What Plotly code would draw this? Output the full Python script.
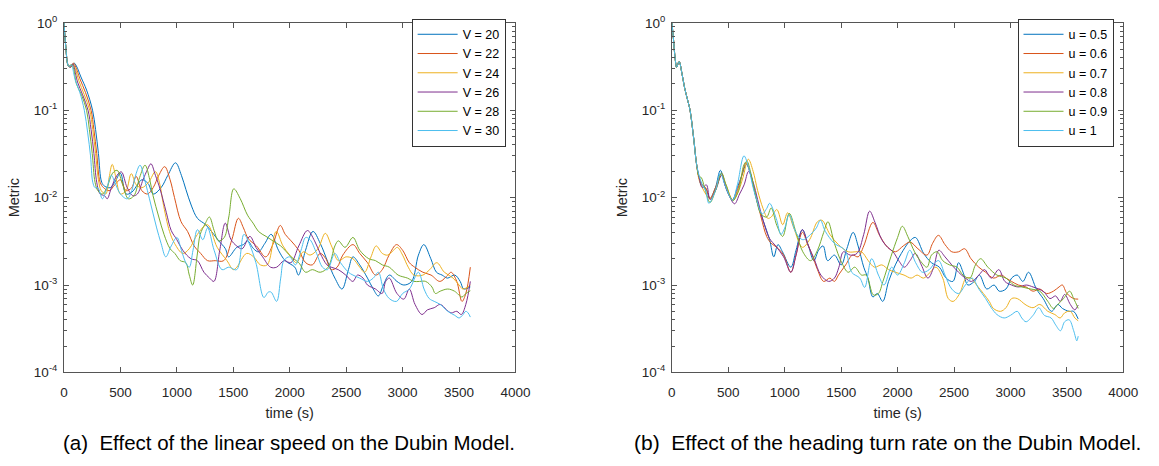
import plotly.graph_objects as go

# ---------------- data: (a) linear speed ----------------
labels_a = ["V = 20", "V = 22", "V = 24", "V = 26", "V = 28", "V = 30"]
labels_b = ["u = 0.5", "u = 0.6", "u = 0.7", "u = 0.8", "u = 0.9", "u = 1"]
colors = ["#0072BD", "#D95319", "#EDB120", "#7E2F8E", "#77AC30", "#4DBEEE"]

t_v20 = [0, 15, 40, 60, 90, 110, 150, 200, 253, 280, 305, 334, 360, 410, 450, 500, 550, 600, 650, 690, 745, 790, 860, 920, 988, 1040, 1080, 1130, 1182, 1255, 1327, 1371, 1430, 1458, 1531, 1589, 1626, 1680, 1723, 1780, 1835, 1900, 1960, 2045, 2077, 2140, 2206, 2270, 2340, 2400, 2463, 2520, 2560, 2620, 2689, 2740, 2785, 2830, 2882, 2950, 3011, 3080, 3140, 3188, 3250, 3300, 3350, 3397, 3462, 3510, 3542, 3600]
m_v20 = [1.0, 0.55, 0.32, 0.31, 0.345, 0.32, 0.24, 0.17, 0.1, 0.06, 0.032, 0.015, 0.0135, 0.013, 0.015, 0.019, 0.011, 0.0115, 0.014, 0.016, 0.0145, 0.011, 0.013, 0.018, 0.025, 0.018, 0.0124, 0.008, 0.0058, 0.0049, 0.0038, 0.0032, 0.0026, 0.0021, 0.0027, 0.0029, 0.0032, 0.0026, 0.0024, 0.0030, 0.0038, 0.0025, 0.0019, 0.0016, 0.0013, 0.0025, 0.0041, 0.0030, 0.0018, 0.0012, 0.0009, 0.0015, 0.0021, 0.0017, 0.0012, 0.0009, 0.00075, 0.001, 0.0013, 0.0011, 0.001, 0.0011, 0.0022, 0.0029, 0.002, 0.0014, 0.0013, 0.0012, 0.0013, 0.0011, 0.0009, 0.00095]

t_v22 = [0, 15, 40, 60, 85, 105, 140, 190, 240, 265, 290, 320, 350, 400, 450, 500, 550, 600, 639, 690, 740, 790, 840, 892, 940, 979, 1037, 1095, 1153, 1211, 1272, 1340, 1415, 1487, 1545, 1590, 1632, 1705, 1787, 1850, 1916, 1960, 2012, 2080, 2141, 2200, 2270, 2320, 2367, 2420, 2470, 2560, 2620, 2689, 2760, 2820, 2880, 2946, 3000, 3060, 3107, 3180, 3252, 3330, 3400, 3430, 3480, 3526, 3560, 3600]
m_v22 = [1.0, 0.55, 0.32, 0.31, 0.345, 0.31, 0.23, 0.16, 0.1, 0.06, 0.032, 0.015, 0.013, 0.012, 0.014, 0.016, 0.012, 0.013, 0.0175, 0.012, 0.011, 0.013, 0.018, 0.0226, 0.016, 0.01, 0.0053, 0.0041, 0.0028, 0.0023, 0.0019, 0.0019, 0.0019, 0.0033, 0.0058, 0.0045, 0.0034, 0.0028, 0.0021, 0.0029, 0.0048, 0.0038, 0.0032, 0.0025, 0.0018, 0.0017, 0.0023, 0.002, 0.0015, 0.0016, 0.0022, 0.0029, 0.0023, 0.0018, 0.0013, 0.0015, 0.0022, 0.0029, 0.0025, 0.0018, 0.0016, 0.0014, 0.0013, 0.0011, 0.0013, 0.0014, 0.0011, 0.00065, 0.0008, 0.0016]

t_v24 = [0, 15, 40, 60, 80, 100, 130, 180, 228, 255, 280, 305, 330, 370, 400, 427, 460, 500, 550, 596, 640, 690, 750, 810, 850, 877, 935, 979, 1052, 1110, 1182, 1270, 1357, 1444, 1500, 1531, 1618, 1680, 1740, 1800, 1880, 1940, 2000, 2060, 2120, 2180, 2250, 2315, 2370, 2431, 2500, 2560, 2620, 2664, 2720, 2766, 2820, 2867, 2920, 2954, 3000, 3050, 3100, 3180, 3240, 3303, 3370, 3448, 3500, 3535, 3600]
m_v24 = [1.0, 0.55, 0.32, 0.32, 0.34, 0.3, 0.22, 0.15, 0.1, 0.06, 0.032, 0.016, 0.012, 0.011, 0.017, 0.024, 0.017, 0.011, 0.012, 0.0188, 0.014, 0.013, 0.015, 0.0198, 0.014, 0.0088, 0.0041, 0.003, 0.0023, 0.0026, 0.0038, 0.0049, 0.0027, 0.0019, 0.0015, 0.0016, 0.0023, 0.0021, 0.0017, 0.0017, 0.0041, 0.0028, 0.0022, 0.0018, 0.0024, 0.0022, 0.0026, 0.0039, 0.0028, 0.0019, 0.0021, 0.002, 0.0016, 0.0014, 0.0021, 0.0028, 0.0023, 0.0022, 0.0025, 0.0027, 0.0022, 0.0016, 0.0013, 0.0013, 0.0015, 0.0018, 0.0014, 0.0012, 0.001, 0.0009, 0.001]

t_v26 = [0, 15, 40, 60, 78, 95, 120, 165, 213, 240, 265, 290, 320, 360, 383, 420, 470, 508, 560, 612, 650, 700, 740, 770, 810, 853, 906, 950, 1000, 1052, 1124, 1182, 1240, 1290, 1328, 1380, 1429, 1480, 1530, 1578, 1647, 1700, 1760, 1830, 1884, 1950, 2010, 2080, 2157, 2220, 2270, 2330, 2367, 2430, 2496, 2560, 2600, 2650, 2689, 2760, 2818, 2850, 2882, 2950, 3011, 3059, 3110, 3172, 3220, 3280, 3333, 3390, 3430, 3480, 3520, 3560, 3600]
m_v26 = [1.0, 0.55, 0.32, 0.32, 0.34, 0.29, 0.21, 0.15, 0.1, 0.06, 0.032, 0.015, 0.011, 0.0105, 0.0097, 0.013, 0.018, 0.0197, 0.013, 0.0105, 0.011, 0.016, 0.021, 0.0244, 0.018, 0.0123, 0.0068, 0.0042, 0.0033, 0.0025, 0.002, 0.0019, 0.0014, 0.0012, 0.0011, 0.0025, 0.0051, 0.0033, 0.0028, 0.0026, 0.0036, 0.0027, 0.0021, 0.0016, 0.0016, 0.0019, 0.0018, 0.0028, 0.0042, 0.0032, 0.0023, 0.0017, 0.0016, 0.0015, 0.0013, 0.0011, 0.0013, 0.0012, 0.001, 0.0009, 0.0008, 0.0011, 0.0012, 0.0008, 0.00069, 0.0009, 0.0006, 0.00046, 0.00052, 0.00055, 0.0006, 0.00052, 0.00048, 0.0005, 0.00046, 0.0006, 0.0011]

t_v28 = [0, 15, 40, 60, 72, 90, 110, 155, 200, 225, 250, 275, 300, 340, 380, 430, 471, 520, 570, 620, 670, 718, 760, 789, 840, 886, 940, 982, 1030, 1079, 1110, 1140, 1180, 1207, 1250, 1288, 1330, 1369, 1420, 1460, 1504, 1560, 1626, 1680, 1723, 1790, 1851, 1920, 1970, 2012, 2080, 2141, 2200, 2270, 2340, 2400, 2431, 2490, 2560, 2620, 2700, 2760, 2820, 2882, 2960, 3043, 3100, 3150, 3204, 3260, 3290, 3333, 3400, 3460, 3526, 3560, 3600]
m_v28 = [1.0, 0.55, 0.32, 0.33, 0.33, 0.28, 0.2, 0.15, 0.1, 0.06, 0.032, 0.015, 0.012, 0.011, 0.013, 0.019, 0.0205, 0.014, 0.0097, 0.0105, 0.017, 0.0235, 0.016, 0.0105, 0.006, 0.0038, 0.0026, 0.0023, 0.0019, 0.0018, 0.0013, 0.001, 0.0022, 0.0038, 0.005, 0.006, 0.0042, 0.0032, 0.0035, 0.006, 0.0126, 0.0098, 0.0063, 0.005, 0.0041, 0.0036, 0.0032, 0.0028, 0.0024, 0.0021, 0.0018, 0.0014, 0.0015, 0.0014, 0.0016, 0.0028, 0.0032, 0.0027, 0.0035, 0.0025, 0.002, 0.0019, 0.0017, 0.0016, 0.0013, 0.0012, 0.0011, 0.0011, 0.0011, 0.00095, 0.0008, 0.00085, 0.0009, 0.00085, 0.00073, 0.0008, 0.00086]

t_v30 = [0, 15, 40, 55, 68, 85, 100, 140, 180, 210, 235, 255, 275, 300, 340, 380, 420, 450, 500, 560, 600, 640, 674, 720, 757, 790, 821, 860, 902, 950, 1000, 1040, 1079, 1110, 1143, 1182, 1230, 1272, 1330, 1400, 1460, 1530, 1594, 1640, 1700, 1771, 1810, 1835, 1884, 1920, 1948, 2000, 2050, 2100, 2141, 2180, 2238, 2290, 2335, 2399, 2450, 2520, 2560, 2620, 2689, 2740, 2785, 2830, 2882, 2946, 3000, 3060, 3140, 3190, 3236, 3280, 3333, 3400, 3462, 3500, 3530, 3560, 3580, 3600]
m_v30 = [1.0, 0.55, 0.32, 0.32, 0.33, 0.27, 0.22, 0.16, 0.1, 0.055, 0.03, 0.015, 0.013, 0.013, 0.0097, 0.013, 0.018, 0.015, 0.011, 0.0097, 0.012, 0.019, 0.0235, 0.015, 0.0097, 0.0065, 0.0045, 0.003, 0.0021, 0.0028, 0.0035, 0.0025, 0.0018, 0.0016, 0.0025, 0.0043, 0.0033, 0.0045, 0.0025, 0.0015, 0.0016, 0.0015, 0.0038, 0.003, 0.0018, 0.00072, 0.00083, 0.00083, 0.00065, 0.0012, 0.0019, 0.0021, 0.0017, 0.0025, 0.0035, 0.0033, 0.0023, 0.0016, 0.0015, 0.0023, 0.0018, 0.0014, 0.0013, 0.0012, 0.0011, 0.0012, 0.0014, 0.0009, 0.0007, 0.00065, 0.0008, 0.0009, 0.0014, 0.0009, 0.0007, 0.00065, 0.0006, 0.0005, 0.00045, 0.00042, 0.00045, 0.0005, 0.00048, 0.00043]

# ---------------- data: (b) heading turn rate ----------------
t_u05 = [0, 12, 30, 42, 64, 90, 113, 140, 161, 193, 219, 241, 260, 290, 310, 338, 386, 430, 470, 500, 537, 580, 620, 660, 690, 724, 756, 808, 866, 903, 940, 980, 1054, 1100, 1156, 1210, 1258, 1300, 1340, 1380, 1440, 1500, 1550, 1606, 1650, 1700, 1737, 1781, 1820, 1868, 1920, 1980, 2050, 2110, 2158, 2231, 2300, 2370, 2430, 2490, 2540, 2580, 2623, 2680, 2725, 2790, 2855, 2900, 2960, 3010, 3060, 3110, 3160, 3230, 3290, 3364, 3420, 3460, 3520, 3560, 3600]
m_u05 = [1.0, 0.7, 0.38, 0.31, 0.36, 0.26, 0.18, 0.13, 0.1, 0.048, 0.024, 0.017, 0.014, 0.013, 0.012, 0.0097, 0.013, 0.0205, 0.014, 0.011, 0.0095, 0.013, 0.018, 0.024, 0.02, 0.013, 0.0088, 0.0055, 0.0033, 0.0021, 0.0029, 0.0024, 0.0016, 0.0025, 0.0043, 0.0028, 0.0019, 0.0025, 0.0028, 0.0019, 0.0022, 0.0017, 0.0026, 0.004, 0.0028, 0.0016, 0.0012, 0.00073, 0.0008, 0.00065, 0.0011, 0.0017, 0.0025, 0.0032, 0.0035, 0.0023, 0.0018, 0.0016, 0.0012, 0.0011, 0.0018, 0.0014, 0.001, 0.0011, 0.0013, 0.0009, 0.001, 0.00085, 0.0009, 0.0012, 0.0013, 0.0011, 0.0014, 0.0009, 0.0007, 0.0005, 0.0006, 0.00054, 0.0005, 0.0005, 0.00041]

t_u06 = [0, 12, 30, 42, 64, 90, 113, 140, 161, 193, 219, 241, 270, 300, 338, 386, 440, 480, 540, 580, 620, 657, 700, 740, 790, 840, 880, 930, 990, 1054, 1100, 1156, 1200, 1243, 1290, 1345, 1400, 1440, 1476, 1540, 1600, 1650, 1700, 1781, 1840, 1912, 1980, 2050, 2110, 2180, 2260, 2310, 2362, 2420, 2480, 2540, 2594, 2650, 2719, 2780, 2850, 2920, 2960, 3009, 3070, 3138, 3200, 3260, 3320, 3380, 3430, 3460, 3500, 3560, 3600]
m_u06 = [1.0, 0.7, 0.38, 0.31, 0.36, 0.26, 0.18, 0.13, 0.1, 0.048, 0.024, 0.017, 0.014, 0.013, 0.0098, 0.013, 0.019, 0.013, 0.0093, 0.012, 0.018, 0.025, 0.018, 0.011, 0.006, 0.0036, 0.003, 0.0027, 0.0022, 0.0014, 0.0022, 0.004, 0.003, 0.0022, 0.0015, 0.0011, 0.0012, 0.0011, 0.0013, 0.0017, 0.0022, 0.0021, 0.0028, 0.0052, 0.0037, 0.0027, 0.0024, 0.0028, 0.0031, 0.0026, 0.0022, 0.003, 0.0037, 0.0029, 0.0024, 0.0024, 0.0026, 0.002, 0.0016, 0.0014, 0.0012, 0.0013, 0.0012, 0.0011, 0.001, 0.00095, 0.00085, 0.0009, 0.0008, 0.00085, 0.00095, 0.001, 0.0008, 0.0007, 0.00069]

t_u07 = [0, 12, 30, 42, 64, 90, 113, 140, 161, 193, 219, 241, 270, 300, 338, 386, 440, 480, 540, 580, 630, 677, 720, 760, 808, 850, 880, 930, 982, 1025, 1080, 1156, 1220, 1290, 1330, 1400, 1476, 1563, 1630, 1680, 1740, 1795, 1860, 1920, 1980, 2057, 2120, 2173, 2230, 2289, 2340, 2400, 2449, 2492, 2550, 2607, 2650, 2700, 2760, 2812, 2848, 2912, 2960, 3010, 3060, 3138, 3200, 3260, 3331, 3393, 3440, 3480, 3530, 3570, 3600]
m_u07 = [1.0, 0.7, 0.38, 0.31, 0.36, 0.26, 0.18, 0.13, 0.1, 0.048, 0.024, 0.016, 0.013, 0.011, 0.0097, 0.012, 0.018, 0.014, 0.0094, 0.011, 0.017, 0.0275, 0.02, 0.012, 0.0075, 0.0058, 0.006, 0.0073, 0.0049, 0.0067, 0.0045, 0.0027, 0.0033, 0.0053, 0.0055, 0.0038, 0.0029, 0.0024, 0.0024, 0.0024, 0.0019, 0.0016, 0.0017, 0.0015, 0.0014, 0.0013, 0.0012, 0.0013, 0.0012, 0.0014, 0.0016, 0.0012, 0.0007, 0.00065, 0.0008, 0.0012, 0.0012, 0.001, 0.0008, 0.00065, 0.00054, 0.0005, 0.00055, 0.0007, 0.0007, 0.00059, 0.00055, 0.0006, 0.0005, 0.00046, 0.00042, 0.00048, 0.0005, 0.00042, 0.00039]

t_u08 = [0, 12, 30, 42, 64, 90, 113, 140, 161, 193, 219, 241, 270, 306, 338, 386, 440, 480, 555, 600, 640, 680, 720, 760, 808, 866, 920, 990, 1054, 1100, 1156, 1210, 1260, 1320, 1389, 1440, 1480, 1520, 1580, 1640, 1700, 1752, 1800, 1860, 1912, 1960, 2010, 2060, 2110, 2156, 2210, 2269, 2320, 2365, 2420, 2480, 2540, 2600, 2655, 2720, 2770, 2830, 2896, 2950, 3010, 3070, 3140, 3200, 3250, 3298, 3350, 3400, 3440, 3480, 3530, 3570, 3600]
m_u08 = [1.0, 0.7, 0.38, 0.31, 0.36, 0.26, 0.18, 0.13, 0.1, 0.048, 0.024, 0.017, 0.013, 0.014, 0.0095, 0.012, 0.018, 0.013, 0.0085, 0.011, 0.014, 0.02, 0.015, 0.0095, 0.0055, 0.0034, 0.0028, 0.0021, 0.0014, 0.0022, 0.0043, 0.0028, 0.002, 0.0013, 0.0011, 0.0012, 0.0016, 0.0024, 0.0022, 0.0023, 0.0038, 0.007, 0.0052, 0.0033, 0.0027, 0.0024, 0.0019, 0.0016, 0.0019, 0.0023, 0.0017, 0.0012, 0.0016, 0.0025, 0.0021, 0.0017, 0.0014, 0.0012, 0.0011, 0.0013, 0.0015, 0.0012, 0.0015, 0.0011, 0.001, 0.00095, 0.001, 0.00095, 0.0009, 0.00083, 0.0007, 0.00075, 0.00065, 0.00078, 0.0006, 0.00052, 0.00059]

t_u09 = [0, 12, 30, 42, 64, 90, 113, 140, 161, 193, 219, 241, 260, 290, 338, 386, 440, 480, 540, 590, 640, 665, 700, 740, 790, 840, 880, 930, 982, 1040, 1100, 1160, 1229, 1290, 1345, 1383, 1440, 1505, 1563, 1620, 1680, 1722, 1786, 1830, 1870, 1940, 2000, 2042, 2090, 2150, 2200, 2260, 2300, 2350, 2400, 2460, 2526, 2580, 2640, 2690, 2736, 2800, 2880, 2960, 3030, 3100, 3180, 3260, 3331, 3380, 3420, 3470, 3524, 3560, 3600]
m_u09 = [1.0, 0.7, 0.38, 0.31, 0.36, 0.26, 0.18, 0.13, 0.1, 0.048, 0.024, 0.0175, 0.017, 0.013, 0.0088, 0.012, 0.019, 0.014, 0.0092, 0.012, 0.024, 0.026, 0.019, 0.011, 0.0065, 0.006, 0.0076, 0.0048, 0.0036, 0.0066, 0.004, 0.0024, 0.0019, 0.0025, 0.004, 0.0053, 0.003, 0.0018, 0.0014, 0.0016, 0.0013, 0.0013, 0.00077, 0.0008, 0.0011, 0.0021, 0.0035, 0.0047, 0.0036, 0.0024, 0.0019, 0.0016, 0.0022, 0.0024, 0.0019, 0.0017, 0.0016, 0.0013, 0.0012, 0.0017, 0.002, 0.0016, 0.0013, 0.0012, 0.001, 0.00095, 0.0009, 0.00085, 0.00065, 0.00054, 0.0006, 0.0007, 0.00085, 0.0007, 0.00054]

t_u10 = [0, 12, 30, 42, 64, 90, 113, 140, 161, 193, 219, 241, 270, 300, 328, 386, 430, 470, 537, 580, 639, 680, 720, 750, 800, 840, 866, 924, 967, 1000, 1040, 1098, 1160, 1230, 1280, 1316, 1360, 1440, 1534, 1593, 1665, 1708, 1770, 1830, 1880, 1947, 2000, 2060, 2108, 2160, 2220, 2280, 2330, 2365, 2420, 2480, 2540, 2600, 2660, 2720, 2780, 2830, 2880, 2944, 3000, 3060, 3100, 3138, 3200, 3250, 3300, 3360, 3400, 3443, 3480, 3520, 3560, 3588, 3600]
m_u10 = [1.0, 0.7, 0.38, 0.31, 0.36, 0.26, 0.18, 0.13, 0.1, 0.048, 0.024, 0.018, 0.014, 0.012, 0.0086, 0.012, 0.019, 0.014, 0.0093, 0.014, 0.03, 0.022, 0.013, 0.0096, 0.0065, 0.0075, 0.0086, 0.0058, 0.0038, 0.0045, 0.0064, 0.004, 0.0033, 0.0038, 0.0045, 0.0055, 0.0041, 0.003, 0.0025, 0.0014, 0.0012, 0.00094, 0.002, 0.0013, 0.001, 0.0016, 0.0013, 0.0018, 0.0025, 0.0018, 0.0014, 0.0015, 0.0018, 0.0019, 0.0013, 0.0009, 0.0008, 0.001, 0.0012, 0.0009, 0.0007, 0.00055, 0.00046, 0.00042, 0.00045, 0.0005, 0.00042, 0.00038, 0.00045, 0.00055, 0.00045, 0.00042, 0.00035, 0.0003, 0.00038, 0.0004, 0.0003, 0.00023, 0.00026]

series_a = [(t_v20, m_v20), (t_v22, m_v22), (t_v24, m_v24), (t_v26, m_v26), (t_v28, m_v28), (t_v30, m_v30)]
series_b = [(t_u05, m_u05), (t_u06, m_u06), (t_u07, m_u07), (t_u08, m_u08), (t_u09, m_u09), (t_u10, m_u10)]

x_ticks = [0, 500, 1000, 1500, 2000, 2500, 3000, 3500, 4000]
y_ticks = [1e-4, 1e-3, 1e-2, 1e-1, 1]
y_ticktext = ["10<sup>-4</sup>", "10<sup>-3</sup>", "10<sup>-2</sup>", "10<sup>-1</sup>", "10<sup>0</sup>"]
y_minor = [m * 10.0 ** e for e in range(-4, 0) for m in range(2, 10)]

captions = ["(a)  Effect of the linear speed on the Dubin Model.",
            "(b)  Effect of the heading turn rate on the Dubin Model."]

FONT = "Liberation Sans, Arial, Helvetica, sans-serif"
AX = "#262626"

fig = go.Figure()
for i, (t, m) in enumerate(series_a):
    fig.add_trace(go.Scatter(x=t, y=m, mode="lines", name=labels_a[i],
                             line=dict(color=colors[i], width=1, shape="spline", smoothing=1.0),
                             xaxis="x", yaxis="y", legend="legend"))
for i, (t, m) in enumerate(series_b):
    fig.add_trace(go.Scatter(x=t, y=m, mode="lines", name=labels_b[i],
                             line=dict(color=colors[i], width=1, shape="spline", smoothing=1.0),
                             xaxis="x2", yaxis="y2", legend="legend2"))

W, H = 1159, 466
left_dom = [61 / W, 520 / W]
right_dom = [679 / W, 1138 / W]
ydom = [(H - 377) / H, (H - 13.3) / H]

def xax(dom, anchor):
    return dict(domain=dom, anchor=anchor, range=[0, 4000], tickvals=x_ticks,
                ticks="inside", ticklen=5, tickwidth=1, tickcolor="#555555",
                showline=True, linecolor="#555555", linewidth=1, mirror="ticks",
                showgrid=False, zeroline=False, ticklabelstandoff=7,
                tickfont=dict(family=FONT, size=13.5, color=AX),
                title=dict(text="time (s)", font=dict(family=FONT, size=14.5, color=AX), standoff=9))

def yax(anchor):
    return dict(domain=ydom, anchor=anchor, type="log", range=[-4, 0],
                tickvals=y_ticks, ticktext=y_ticktext,
                ticks="inside", ticklen=5, tickwidth=1, tickcolor="#555555",
                minor=dict(tickvals=y_minor, ticks="inside", ticklen=3, tickcolor="#555555", showgrid=False),
                showline=True, linecolor="#555555", linewidth=1, mirror="ticks",
                showgrid=False, zeroline=False, ticklabelstandoff=3,
                tickfont=dict(family=FONT, size=13.5, color=AX),
                title=dict(text="Metric", font=dict(family=FONT, size=14.5, color=AX), standoff=10))

def leg(xr):
    return dict(x=xr, y=(H - 9) / H, xanchor="right", yanchor="top",
                bgcolor="white", bordercolor="#333333", borderwidth=1,
                font=dict(family=FONT, size=12.5, color="#000000"),
                itemwidth=40, tracegroupgap=0)

fig.update_layout(
    width=W, height=H, margin=dict(l=0, r=0, t=0, b=0),
    paper_bgcolor="white", plot_bgcolor="white",
    xaxis=xax(left_dom, "y"), yaxis=yax("x"),
    xaxis2=xax(right_dom, "y2"), yaxis2=yax("x2"),
    legend=leg(510 / W), legend2=leg(1128 / W),
    showlegend=True,
    annotations=[
        dict(text=captions[0], x=290 / W, y=(H - 450) / H, xref="paper", yref="paper",
             showarrow=False, xanchor="center", yanchor="middle",
             font=dict(family=FONT, size=20.5, color="#000000")),
        dict(text=captions[1], x=898 / W, y=(H - 450) / H, xref="paper", yref="paper",
             showarrow=False, xanchor="center", yanchor="middle",
             font=dict(family=FONT, size=21, color="#000000")),
    ],
)

fig.write_html("out.html")
